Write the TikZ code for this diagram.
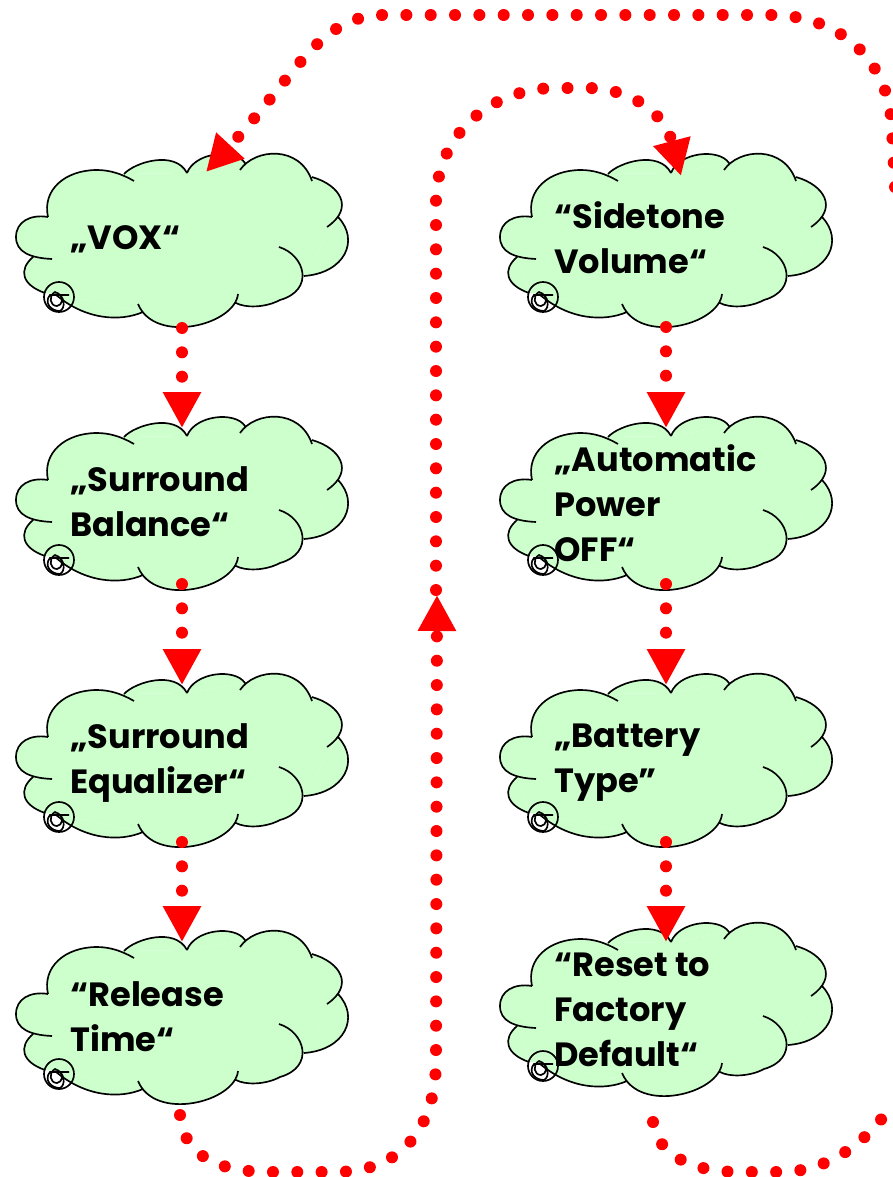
\documentclass[tikz,border=0pt]{standalone}
\usepackage{fontspec}
\setmainfont{Poppins}
\usetikzlibrary{arrows.meta}

\definecolor{cloudgreen}{HTML}{CCFFCC}

\tikzset{
  cloudline/.style={black,line width=1.25pt},
  cloudtext/.style={anchor=west,inner sep=0pt,align=left,font=\fontsize{25.2}{33.75}\selectfont\bfseries},
  menuflow/.style={red,line width=9pt,line cap=round,dash pattern=on 0pt off 18.25pt,
    -{Triangle[length=27pt,width=27pt]}},
  menuloop/.style={red,line width=9pt,line cap=round,dash pattern=on 0pt off 18.25pt}
}

% the lobes of one cloud
\newcommand{\cloudlobes}{
  (52,129) .. controls (30,128) and (16,122) .. (16,107) .. controls (16,92) and (30,84) .. (48,87)
  (48,87) .. controls (42,60) and (65,40) .. (97,40) .. controls (110,40) and (122,44) .. (134,51)
  (124,44) .. controls (135,32) and (175,20) .. (187,43)
  (187,43) .. controls (195,22) and (235,18) .. (245,33)
  (240,40) .. controls (255,18) and (300,15) .. (312,51)
  (312,47) .. controls (340,55) and (355,78) .. (327,97)
  (338,87) .. controls (360,110) and (345,143) .. (304,146)
  (279,117) .. controls (305,125) and (315,160) .. (280,170) .. controls (265,178) and (245,178) .. (236,173)
  (238,164) .. controls (235,195) and (155,215) .. (138,174)
  (143,182) .. controls (120,192) and (85,190) .. (55,164)
  (45,163) .. controls (22,155) and (18,140) .. (33,127)
}

\newcommand{\drawcloud}[2]{
  \begin{scope}[shift={(#2)}]
    \fill[cloudgreen] (33,127) -- (48,87) -- (124,44) -- (187,43) -- (245,33) -- (312,47) -- (338,87)
      -- (304,146) -- (280,170) -- (236,173) -- (143,182) -- (55,164) -- (45,163) -- cycle;
    \fill[cloudgreen] \cloudlobes;
    \draw[cloudline] \cloudlobes;
    % the little spiral
    \draw[cloudline] (59,167) circle (15);
    \draw[cloudline] (69,165) -- (50,165) .. controls (44,172) and (50,181) .. (60,181)
      .. controls (66,178) and (65,165) .. (55,162) .. controls (48,166) and (50,176) .. (57,176)
      .. controls (63,175) and (63,168) .. (60,165);
    \coordinate (#1 top) at (182,35);
  \end{scope}
}

\begin{document}
\begin{tikzpicture}[x=0.75pt,y=-0.75pt]
\useasboundingbox (0,0) rectangle (892,1177);

% left column
\drawcloud{vox}{0,130}
\drawcloud{balance}{0,393}
\drawcloud{equalizer}{0,650}
\drawcloud{release}{0,907}

% right column
\drawcloud{sidetone}{484,130}
\drawcloud{power}{484,393}
\drawcloud{battery}{484,650}
\drawcloud{reset}{484,899}

% Labels
\node[cloudtext] (voxlabel) at (70,239) {„VOX“};
\node[cloudtext] (balancelabel) at (70,502) {„Surround\\Balance“};
\node[cloudtext] (equalizerlabel) at (70,763) {„Surround\\Equalizer“};
\node[cloudtext] (releaselabel) at (70,1017) {“Release\\Time“};
\node[cloudtext] (sidetonelabel) at (554,238) {“Sidetone\\Volume“};
\node[cloudtext] (powerlabel) at (554,503) {„Automatic\\Power\\OFF“};
\node[cloudtext] (batterylabel) at (554,763) {„Battery\\Type”};
\node[cloudtext] (resetlabel) at (554,1010) {“Reset to\\Factory\\Default“};

% Free ends of the connectors
\coordinate (voxout) at (182,328);
\coordinate (balanceout) at (182,584);
\coordinate (equalizerout) at (182,842);
\coordinate (releaseout) at (180,1115);
\coordinate (sidetoneout) at (666,327);
\coordinate (powerout) at (666,584);
\coordinate (batteryout) at (666,842);
\coordinate (resetout) at (653,1122);
\coordinate (resetoff) at (895,1100);
\coordinate (voxoff) at (895,187);
\coordinate (voxin) at (206,172);
\coordinate (sidetonein) at (681,176);
\coordinate (riserbase) at (437,595);
\coordinate (risertop) at (436,590);

% Straight connectors
\draw[menuflow] (voxout) -- (balance top);
\draw[menuflow] (balanceout) -- (equalizer top);
\draw[menuflow] (equalizerout) -- (release top);
\draw[menuflow] (sidetoneout) -- (power top);
\draw[menuflow] (powerout) -- (battery top);
\draw[menuflow] (batteryout) -- ([yshift=-6pt]reset top);

% Long connectors
\draw[menuflow] (releaseout) .. controls (183,1150) and (210,1172) .. (270,1172)
  -- (335,1172) .. controls (400,1172) and (436,1130) .. (436,1060) -- (riserbase);
\draw[menuflow] (risertop) -- (436,200) .. controls (438,130) and (495,88) .. (556,88)
  -- (590,88) .. controls (635,90) and (665,115) .. (sidetonein);
\draw[menuloop] (resetout) .. controls (656,1150) and (685,1172) .. (740,1172)
  -- (780,1172) .. controls (830,1172) and (870,1140) .. (resetoff);
\draw[menuflow] (voxoff) -- (892,130) .. controls (890,60) and (840,15) .. (770,15)
  -- (385,15) .. controls (320,15) and (300,70) .. (voxin);

\end{tikzpicture}
\end{document}
